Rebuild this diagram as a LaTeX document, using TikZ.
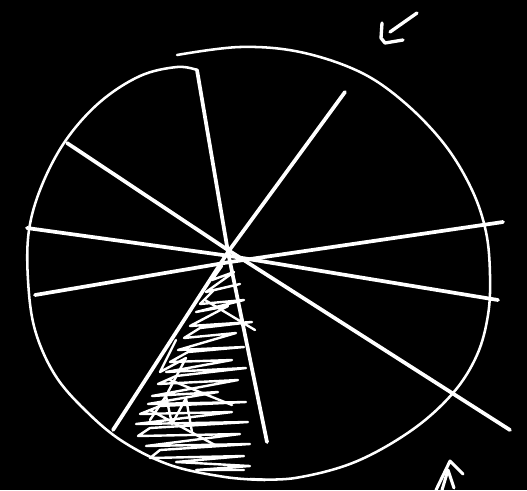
\documentclass[tikz,border=0pt]{standalone}
\begin{document}
\begin{tikzpicture}[x=0.75pt,y=-0.75pt,
  ink/.style={draw=white,line cap=round,line join=round},
  rim/.style={ink,line width=1.9pt},
  spoke/.style={ink,line width=2.8pt},
  hatch/.style={ink,line width=1.8pt}]
\fill[black] (0,0) rectangle (527,490);
\useasboundingbox (0,0) rectangle (527,490);
% rim, two strokes
\draw[rim] plot[smooth,tension=0.6] coordinates {(177,55) (240,47) (300,52) (360,72) (405,103) (445,145) (472,190) (486,232) (490,275) (488,315) (477,355) (453,393) (412,430) (355,462) (295,478) (250,479)};
\draw[rim] plot[smooth,tension=0.6] coordinates {(197,70) (177,67) (140,76) (100,102) (66,140) (42,185) (29,230) (28,280) (35,330) (55,375) (85,410) (122,441) (170,465) (225,477) (265,480)};
% spokes
\draw[spoke] (197,70) -- (228,252) -- (267,442);
\draw[spoke] (67,143) -- (228,250) -- (510,430);
\draw[spoke] (345,92) -- (228,252) -- (113,430);
\draw[spoke] (27,228) -- (230,256) -- (498,300);
\draw[spoke] (35,295) -- (230,262) -- (503,222);
% hatching of the wedge
\draw[hatch] (222,266) -- (212,280) -- (234,272) -- (206,292) -- (240,284) -- (214,290) -- (200,304) -- (244,300) -- (196,312) -- (228,306) -- (190,326) -- (252,322) -- (200,328) -- (184,338) -- (236,333) -- (178,350) -- (244,347) -- (188,352) -- (170,362) -- (232,360) -- (166,372) -- (246,368) -- (176,376) -- (158,384) -- (238,380) -- (152,396) -- (218,392) -- (148,404) -- (246,402) -- (160,406) -- (140,414) -- (232,412) -- (136,424) -- (248,422) -- (150,428) -- (138,436) -- (240,434) -- (146,446) -- (250,444) -- (160,450) -- (150,458) -- (244,456) -- (176,462) -- (250,466) -- (196,470) -- (244,470);
\draw[hatch] (205,300) -- (255,330);
\draw[hatch] (170,380) -- (232,405);
\draw[hatch] (150,410) -- (215,445);
\draw[hatch] (176,340) -- (160,372) -- (186,358) -- (168,392);
\draw[hatch] (150,420) -- (166,396) -- (172,424) -- (186,398) -- (192,432);
% arrow marks
\draw[spoke,line width=2.5pt] (417,13) -- (390,32);
\draw[spoke,line width=2.5pt] (382,23) -- (381,38) -- (385,43) -- (403,40);
\draw[spoke,line width=2.3pt] (436,490) -- (450,461) -- (463,474);
\draw[spoke,line width=2.3pt] (442,490) -- (448,470) -- (454,488);
\end{tikzpicture}
\end{document}
